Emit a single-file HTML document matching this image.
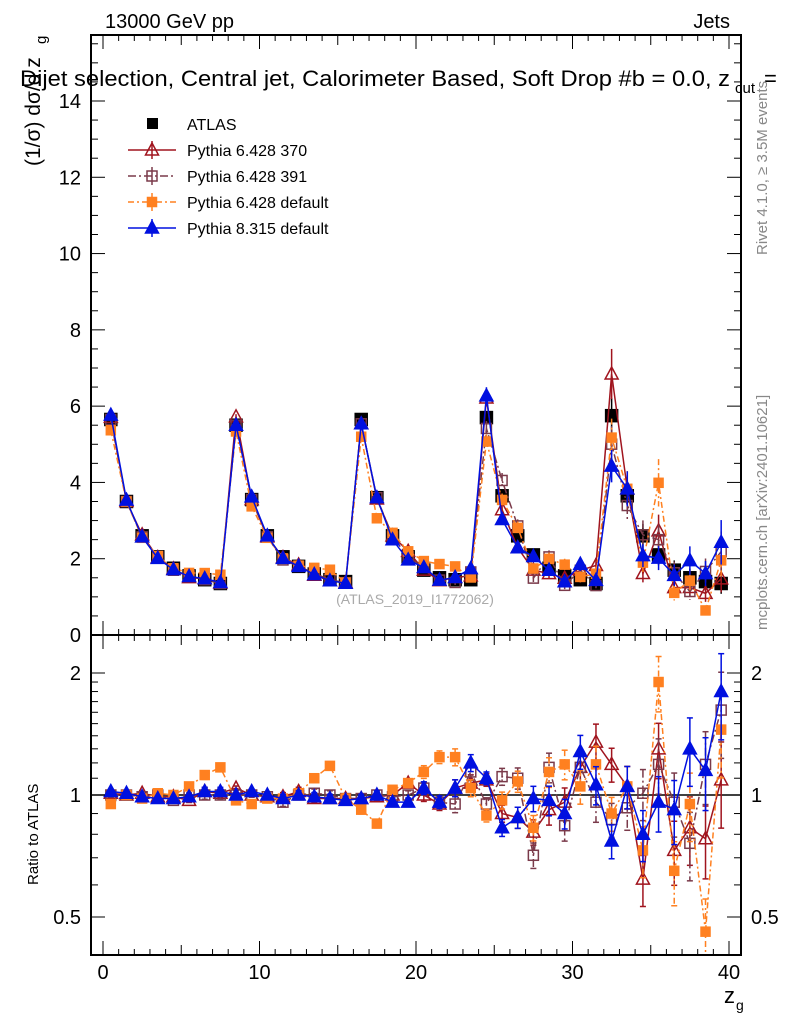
<!DOCTYPE html>
<html><head><meta charset="utf-8"><style>
html,body{margin:0;padding:0;background:#fff;}
svg{display:block;font-family:"Liberation Sans",sans-serif;}
</style></head><body>
<svg id="chart" width="786" height="1024" viewBox="0 0 786 1024"></svg>
<script>
const bins = Array.from({length:40},(_,i)=>i+0.5);
const atlas = [5.65,3.5,2.6,2.05,1.75,1.55,1.45,1.35, 5.5,3.55,2.6,2.05,1.8,1.6,1.45,1.4, 5.65,3.6,2.6,2.05,1.7,1.5,1.45,1.45, 5.7,3.65,2.6,2.1,1.75,1.55,1.45,1.35, 5.75,3.65,2.6,2.1,1.7,1.5,1.4,1.35];
const relErr = [0.01,0.01,0.01,0.01,0.01,0.01,0.02,0.02, 0.01,0.01,0.01,0.02,0.02,0.02,0.02,0.02, 0.02,0.02,0.02,0.02,0.03,0.03,0.04,0.04, 0.03,0.04,0.05,0.06,0.07,0.07,0.08,0.09, 0.08,0.1,0.12,0.13,0.15,0.16,0.17,0.2];
const r370 = [1.01,1.0,1.01,0.99,0.99,0.97,1.02,1.01,1.04,1.0,0.99,0.99,1.02,0.98,0.98,0.98,0.98,0.99, 1.0,1.07,1.0,0.95,1.04,1.07,1.09,0.9,0.88,0.81,0.92,0.96,1.17,1.35,1.19,1.05,0.62,1.3,0.73,0.83,0.78,1.09];
const r391 = [1.0,1.0,0.99,1.0,0.97,1.0,1.0,1.0,1.0,1.0,0.99,0.96,1.0,1.01,1.0,0.98,0.98,1.0, 0.99,1.0,1.04,0.96,0.95,1.14,0.95,1.11,1.1,0.71,1.17,0.84,1.17,0.96,0.87,0.93,1.01,1.19,0.96,0.76,1.19,1.62];
const r6def = [0.95,1.0,0.98,1.01,1.0,1.05,1.12,1.17,0.97,0.95,0.98,0.98,1.01,1.1,1.18,0.98,0.92,0.85, 1.03,1.07,1.14,1.24,1.24,1.04,0.89,0.97,1.08,0.83,1.14,1.19,1.05,1.19,0.9,1.05,0.73,1.9,0.65,0.95,0.46,1.45];
const r8def = [1.02,1.01,0.99,0.98,0.98,0.99,1.02,1.02,1.0,1.02,1.0,0.98,1.0,0.99,0.98,0.97,0.98,1.0, 0.96,0.96,1.04,0.96,1.04,1.2,1.1,0.83,0.88,0.98,0.97,0.9,1.28,1.06,0.77,1.05,0.8,0.96,0.92,1.3,1.15,1.8];
const yTicks = [0,2,4,6,8,10,12,14];
const xTicks = [0,10,20,30,40];
const rTicks = [0.5,1,2];

const NS="http://www.w3.org/2000/svg";
const svg=document.getElementById('chart');
function el(tag,attrs,parent){const e=document.createElementNS(NS,tag);for(const k in attrs)e.setAttribute(k,attrs[k]);(parent||svg).appendChild(e);return e;}
const L=91,R=741,T=35,MB=635,RB=955;
const X=v=>103+v*15.65;
const Y=v=>MB-v*(MB-T)/15.73;
const RY=v=>795-Math.log2(v)*122;

const series=[
 {name:'Pythia 6.428 370',r:r370,col:'#a0141e',dash:'',mk:'tri-open'},
 {name:'Pythia 6.428 391',r:r391,col:'#7a3a4a',dash:'8,3,2,3',mk:'sq-open'},
 {name:'Pythia 6.428 default',r:r6def,col:'#ff8020',dash:'6,3,2,3',mk:'sq-fill'},
 {name:'Pythia 8.315 default',r:r8def,col:'#0010e0',dash:'',mk:'tri-fill'}
];
function marker(g,mk,x,y,col){
 let e;
 if(mk.startsWith('tri')) e=el('polygon',{points:`${x},${y-7} ${x-6.5},${y+5} ${x+6.5},${y+5}`},g);
 else if(mk==='sq-open') e=el('rect',{x:x-5,y:y-5,width:10,height:10},g);
 else if(mk==='sq-fill') e=el('rect',{x:x-4.5,y:y-4.5,width:9,height:9},g);
 else e=el('rect',{x:x-6,y:y-6,width:12,height:12},g);
 const open=mk.endsWith('open');
 e.setAttribute('fill',open?'#fff':col);e.setAttribute('fill-opacity',open?'0':'1');
 e.setAttribute('stroke',col);e.setAttribute('stroke-width',1.5);
 return e;
}
const defs=el('defs',{});
const c1=el('clipPath',{id:'cm'},defs);el('rect',{x:L,y:T,width:R-L,height:MB-T},c1);
const c2=el('clipPath',{id:'cr'},defs);el('rect',{x:L,y:MB,width:R-L,height:RB-MB},c2);

const gm=el('g',{'clip-path':'url(#cm)'});

const gr=el('g',{'clip-path':'url(#cr)'});

el('line',{x1:L,x2:R,y1:RY(1),y2:RY(1),stroke:'#000','stroke-width':1.5},gr);

series.forEach((s,si)=>{
 const vals=atlas.map((a,i)=>a*s.r[i]);
 const g=el('g',{},gm);
 
 
 const gg=el('g',{},gr);
 
 
 el('polyline',{points:bins.map((b,i)=>X(b)+','+Y(vals[i])).join(' '),fill:'none',stroke:s.col,'stroke-width':1.5,'stroke-dasharray':s.dash},g);
 el('polyline',{points:bins.map((b,i)=>X(b)+','+RY(s.r[i])).join(' '),fill:'none',stroke:s.col,'stroke-width':1.5,'stroke-dasharray':s.dash},gg);
 bins.forEach((b,i)=>{
  const e=relErr[i]*1.2;
  const v=vals[i],x=X(b);
  el('line',{x1:x,x2:x,y1:Y(v*(1+e)),y2:Y(v*(1-e)),stroke:s.col,'stroke-width':1.5,'stroke-dasharray':s.dash},g);
  const m=marker(g,s.mk,x,Y(v),s.col);
  
  
  const rv=s.r[i];
  el('line',{x1:x,x2:x,y1:RY(rv*(1+e)),y2:RY(Math.max(0.3,rv*(1-e))),stroke:s.col,'stroke-width':1.5,'stroke-dasharray':s.dash},gg);
  el('line',{x1:x-3,x2:x+3,y1:RY(rv*(1+e)),y2:RY(rv*(1+e)),stroke:s.col,'stroke-width':1.5},gg);
  el('line',{x1:x-3,x2:x+3,y1:RY(Math.max(0.3,rv*(1-e))),y2:RY(Math.max(0.3,rv*(1-e))),stroke:s.col,'stroke-width':1.5},gg);
  const rm=marker(gg,s.mk,x,RY(rv),s.col);
  
  
 });
});
const ga=el('g',{},gm);

bins.forEach((b,i)=>{
 const x=X(b),v=atlas[i];
 el('line',{x1:x,x2:x,y1:Y(v*(1+relErr[i])),y2:Y(v*(1-relErr[i])),stroke:'#000','stroke-width':1.5},ga);
 const m=marker(ga,'sq-data',x,Y(v),'#000');
 
 
});
gm.insertBefore(ga,gm.firstChild);

el('rect',{x:L,y:T,width:R-L,height:MB-T,fill:'none',stroke:'#000','stroke-width':2});
el('rect',{x:L,y:MB,width:R-L,height:RB-MB,fill:'none',stroke:'#000','stroke-width':2});

for(let v=0;v<=41;v++){
 const x=X(v); if(x<L||x>R)continue;
 const len=v%10===0?14:(v%5===0?10:6);
 [[MB,1],[T,-1],[RB,1],[MB,-1]].forEach(([y,d])=>el('line',{x1:x,x2:x,y1:y,y2:y-d*len,stroke:'#000','stroke-width':1}));
}
xTicks.forEach(v=>{const t=el('text',{x:X(v),y:979,'font-size':20,'text-anchor':'middle'});t.textContent=v;});
for(let k=0;k<=31;k++){const v=k*0.5;const y=Y(v);if(y<T)continue;const len=k%4===0?14:7;
 el('line',{x1:L,x2:L+len,y1:y,y2:y,stroke:'#000'});el('line',{x1:R,x2:R-len,y1:y,y2:y,stroke:'#000'});}
yTicks.forEach(v=>{const t=el('text',{x:81,y:Y(v)+7,'font-size':20,'text-anchor':'end'});t.textContent=v;});
[0.5,0.6,0.7,0.8,0.9,1,1.1,1.2,1.3,1.4,1.5,1.6,1.7,1.8,1.9,2].forEach(v=>{const y=RY(v);const len=(v===0.5||v===1||v===2)?14:7;
 el('line',{x1:L,x2:L+len,y1:y,y2:y,stroke:'#000'});el('line',{x1:R,x2:R-len,y1:y,y2:y,stroke:'#000'});});
rTicks.forEach(v=>{
 const t=el('text',{x:81,y:RY(v)+7,'font-size':20,'text-anchor':'end'});t.textContent=v;
 const t2=el('text',{x:751,y:RY(v)+7,'font-size':20});t2.textContent=v;
});
function txt(x,y,s,attrs,name){const t=el('text',Object.assign({x:x,y:y},attrs));t.textContent=s;return t;}
txt(105,28,'13000 GeV pp',{'font-size':20},'header-energy');
txt(730,28,'Jets',{'font-size':20,'text-anchor':'end'},'header-process');
txt(20,86,'Dijet selection, Central jet, Calorimeter Based, Soft Drop #b = 0.0, z',{'font-size':22,textLength:710,lengthAdjust:'spacingAndGlyphs'},'plot-title');
txt(735,93,'cut',{'font-size':15},'plot-title-sub');
txt(764,86,'=',{'font-size':22},'plot-title-eq');
txt(415,604,'(ATLAS_2019_I1772062)',{'font-size':14,fill:'#aaa','text-anchor':'middle'},'analysis-id');
txt(0,0,'(1/σ) dσ/d z',{'font-size':21,transform:'translate(40,166) rotate(-90)'},'y-axis-title');
txt(0,0,'g',{'font-size':15,transform:'translate(46,44) rotate(-90)'},'y-axis-title-sub');
txt(0,0,'Ratio to ATLAS',{'font-size':15,transform:'translate(38,885) rotate(-90)'},'ratio-axis-title');
txt(724,1003,'z',{'font-size':22},'x-axis-title');
txt(736,1010,'g',{'font-size':14},'x-axis-title-sub');
txt(0,0,'Rivet 4.1.0, ≥ 3.5M events',{'font-size':15,fill:'#888',transform:'translate(767,255) rotate(-90)'},'rivet-version');
txt(0,0,'mcplots.cern.ch [arXiv:2401.10621]',{'font-size':15,fill:'#888',transform:'translate(767,630) rotate(-90)'},'mcplots-credit');
const lg=el('g',{});
const ly=[124,150,176,202,228];
const le0=el('g',{},lg);
el('rect',{x:147,y:ly[0]-6,width:11,height:11,fill:'#000'},le0);
txt(187,ly[0]+6,'ATLAS',{'font-size':16},'legend-label');
series.forEach((s,i)=>{
 const g=el('g',{},lg);
 const y=ly[i+1];
 el('line',{x1:128,x2:176,y1:y,y2:y,stroke:s.col,'stroke-width':1.5,'stroke-dasharray':s.dash},g);
 el('line',{x1:152,x2:152,y1:y-9,y2:y+9,stroke:s.col,'stroke-width':1.5},g);
 marker(g,s.mk,152,y,s.col);
 txt(187,y+6,s.name,{'font-size':16},'legend-label');
});
</script>
</body></html>
